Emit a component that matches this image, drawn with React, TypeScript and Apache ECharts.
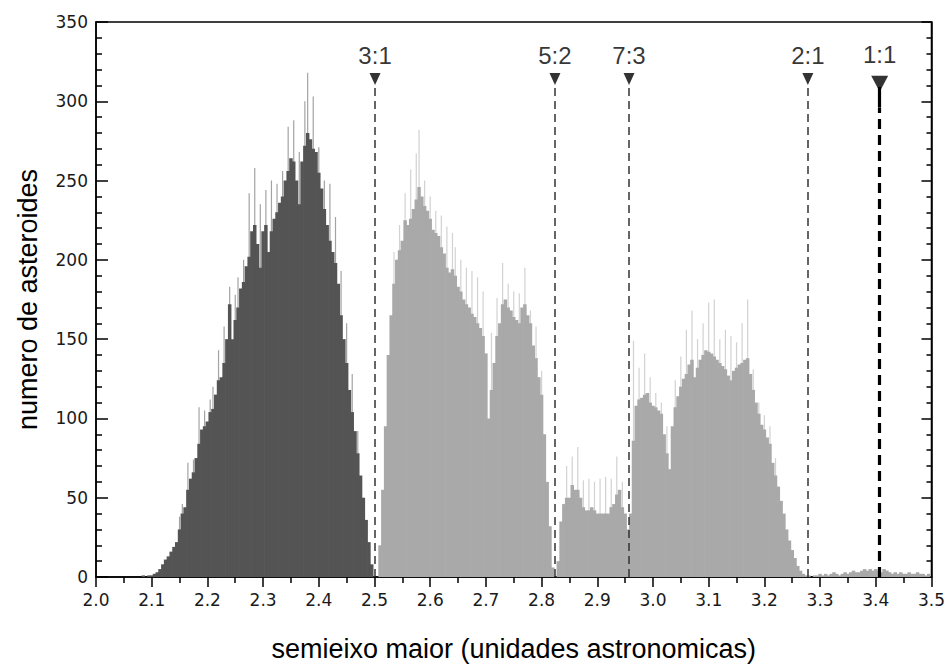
import React, { useEffect, useRef } from "react";
import * as echarts from "echarts";

// Histogram bins: centre of first bin and bin width (AU)
const BIN_START = 2.08;
const BIN_STEP = 0.005;

// Body counts per bin (2.080 .. 3.495, step 0.005)
const counts = [
  0, 1, 0, 1,
  1, 2, 3, 5, 8, 11, 13, 16, 19, 22,
  30, 40, 44, 55, 62, 66, 75, 84, 93, 95,
  98, 104, 106, 115, 124, 126, 135, 150, 172, 150,
  162, 170, 182, 186, 196, 202, 218, 222, 210, 195,
  218, 222, 205, 218, 226, 230, 236, 240, 250, 256,
  264, 262, 250, 235, 262, 272, 280, 276, 270, 268,
  255, 245, 232, 222, 212, 205, 198, 185, 165, 150,
  135, 118, 104, 92, 78, 64, 50, 36, 22, 8,
  0, 0, 20, 55, 95, 140, 165, 185, 200, 206,
  212, 225, 222, 226, 232, 238, 246, 240, 234, 231,
  226, 219, 217, 215, 208, 204, 195, 192, 194, 190,
  183, 180, 175, 172, 170, 166, 164, 160, 157, 152,
  141, 100, 118, 135, 152, 160, 172, 175, 170, 168,
  164, 162, 160, 170, 172, 165, 160, 146, 138, 126,
  115, 90, 60, 32, 6, 0, 10, 35, 46, 50,
  50, 58, 55, 55, 50, 44, 42, 42, 44, 42,
  40, 40, 40, 40, 40, 44, 46, 52, 55, 44,
  40, 30, 40, 86, 108, 112, 113, 115, 116, 110,
  108, 107, 105, 103, 90, 78, 68, 95, 107, 114,
  120, 125, 128, 134, 137, 126, 132, 137, 140, 143,
  142, 141, 139, 137, 135, 133, 131, 127, 124, 130,
  132, 134, 135, 137, 138, 128, 118, 110, 103, 96,
  93, 88, 84, 72, 64, 57, 48, 40, 30, 23,
  17, 12, 7, 4, 2, 1, 1, 0, 1, 1,
  2, 1, 2, 1, 2, 3, 2, 1, 2, 3,
  2, 3, 4, 3, 3, 4, 5, 4, 5, 4,
  5, 4, 3, 5, 4, 3, 2, 3, 2, 3,
  2, 2, 3, 2, 2, 3, 2, 2, 1, 2,
];

// Narrow spikes above the body (position in AU, count)
const tipPositions = [
  2.15, 2.155, 2.165, 2.175, 2.185, 2.195, 2.205, 2.21, 2.22, 2.23,
  2.24, 2.25, 2.255, 2.265, 2.275, 2.285, 2.295, 2.305, 2.315, 2.325,
  2.335, 2.345, 2.355, 2.365, 2.375, 2.38, 2.39, 2.4, 2.41, 2.42,
  2.43, 2.44, 2.45, 2.46, 2.47,
  2.535, 2.545, 2.555, 2.565, 2.575, 2.58, 2.59, 2.6, 2.61, 2.62,
  2.63, 2.64, 2.645, 2.655, 2.665, 2.675, 2.685, 2.695, 2.71, 2.72,
  2.73, 2.74, 2.75, 2.76, 2.77, 2.78, 2.79, 2.8,
  2.845, 2.855, 2.865, 2.875, 2.885, 2.895, 2.905, 2.915, 2.925, 2.935, 2.945,
  2.965, 2.975, 2.985, 2.995, 3.005, 3.015, 3.025, 3.04, 3.05, 3.06,
  3.07, 3.08, 3.09, 3.1, 3.11, 3.12, 3.13, 3.14, 3.15, 3.16,
  3.17, 3.18, 3.19, 3.2, 3.21, 3.22,
];
const tipCounts = [
  38, 46, 72, 74, 107, 105, 112, 120, 143, 158,
  183, 178, 189, 200, 242, 258, 235, 244, 250, 248,
  256, 284, 288, 268, 300, 318, 303, 271, 250, 248,
  227, 193, 160, 128, 92,
  205, 222, 242, 257, 267, 282, 250, 240, 231, 228,
  221, 217, 208, 200, 195, 193, 189, 180, 154, 176,
  198, 185, 180, 179, 195, 168, 158, 130,
  70, 76, 82, 61, 62, 60, 62, 63, 62, 76, 60,
  149, 132, 141, 126, 116, 110, 95, 124, 139, 156,
  168, 150, 160, 173, 175, 150, 156, 152, 148, 160,
  175, 131, 110, 102, 95, 75,
];

// Mean-motion resonances with Jupiter
const resonanceLabels = ["3:1", "5:2", "7:3", "2:1", "1:1"];
const resonancePositions = [2.501, 2.824, 2.957, 3.278, 3.407];

const GAP_EDGE = 2.5;

export default function App() {
  const ref = useRef<HTMLDivElement>(null);

  useEffect(() => {
    if (!ref.current) return;
    const chart = echarts.init(ref.current, undefined, { renderer: "svg" });
    const r3 = (v: number) => Math.round(v * 1000) / 1000;

    const bodyData = counts.map((c, i) => {
      const a = r3(BIN_START + i * BIN_STEP);
      return { value: [a, c], itemStyle: { color: a < GAP_EDGE ? "#545454" : "#a9a9a9" } };
    });
    const tipData = tipPositions.map((a, i) => ({
      value: [a, tipCounts[i]],
      itemStyle: { color: a < GAP_EDGE ? "#a3a3a3" : "#d2d2d2" },
    }));

    const isMain = (i: number) => resonanceLabels[i] === "1:1";
    const markerData = resonancePositions.map((x, i) => ({
      value: [x, isMain(i) ? 311 : 314],
      symbolSize: isMain(i) ? [17, 16] : [11, 12],
      label: {
        show: true,
        position: "top",
        distance: isMain(i) ? 9 : 6,
        formatter: resonanceLabels[i],
        fontFamily: "Liberation Sans",
        fontSize: 24,
        color: "#000",
      },
    }));
    const lineData = resonancePositions.flatMap((x, i) =>
      isMain(i)
        ? [
            [
              { coord: [x, 0], lineStyle: { color: "#000", width: 3.2, type: [10, 6] } },
              { coord: [x, 296] },
            ],
            [
              { coord: [x, 296], lineStyle: { color: "#000", width: 3.2, type: "solid" } },
              { coord: [x, 309] },
            ],
          ]
        : [
            [
              { coord: [x, 0], lineStyle: { color: "#333", width: 1.5, type: [8, 5] } },
              { coord: [x, 310] },
            ],
          ]
    );

    const tickStyle = { color: "#000", width: 1.5 };
    const labelFont = { fontFamily: "DejaVu Sans", fontSize: 17, color: "#1a1a1a" };
    const titleFont = { fontFamily: "Liberation Sans", fontSize: 27, color: "#000" };

    chart.setOption({
      animation: false,
      grid: {
        left: 96,
        top: 22,
        width: 837,
        height: 555,
        show: true,
        borderColor: "#000",
        borderWidth: 1.5,
        backgroundColor: "transparent",
      },
      xAxis: [
        {
          type: "value",
          min: 2.0,
          max: 3.5,
          interval: 0.1,
          axisLine: { show: true, onZero: false, lineStyle: tickStyle },
          axisTick: { show: true, inside: false, length: 10, lineStyle: tickStyle },
          minorTick: { show: true, splitNumber: 2, length: 6, lineStyle: tickStyle },
          splitLine: { show: false },
          axisLabel: { ...labelFont, margin: 14, formatter: (v: number) => v.toFixed(1) },
          name: "semieixo maior (unidades astronomicas)",
          nameLocation: "middle",
          nameGap: 58,
          nameTextStyle: titleFont,
        },
        { type: "value", min: 2.0, max: 3.5, show: false },
        { type: "value", min: 2.0, max: 3.5, show: false },
      ],
      yAxis: [
        {
          type: "value",
          min: 0,
          max: 350,
          interval: 50,
          axisLine: { show: true, lineStyle: tickStyle },
          axisTick: { show: true, inside: true, length: 12, lineStyle: tickStyle },
          minorTick: { show: true, splitNumber: 5, length: 6, lineStyle: tickStyle },
          splitLine: { show: false },
          axisLabel: { ...labelFont, margin: 8 },
          name: "numero de asteroides",
          nameLocation: "middle",
          nameGap: 55,
          nameTextStyle: titleFont,
        },
        {
          type: "value",
          min: 0,
          max: 350,
          interval: 50,
          position: "right",
          axisLine: { show: true, lineStyle: tickStyle },
          axisTick: { show: true, inside: true, length: 10, lineStyle: tickStyle },
          minorTick: { show: true, splitNumber: 5, length: 5, lineStyle: tickStyle },
          splitLine: { show: false },
          axisLabel: { show: false },
        },
      ],
      series: [
        {
          type: "bar",
          xAxisIndex: 1,
          yAxisIndex: 0,
          data: tipData,
          barWidth: 1.2,
          silent: true,
        },
        {
          type: "bar",
          xAxisIndex: 2,
          yAxisIndex: 0,
          data: bodyData,
          barWidth: 3.5,
          silent: true,
        },
        {
          type: "scatter",
          xAxisIndex: 0,
          yAxisIndex: 0,
          symbol: "triangle",
          symbolRotate: 180,
          itemStyle: { color: "#000" },
          data: markerData,
          silent: true,
          z: 5,
          markLine: {
            silent: true,
            symbol: ["none", "none"],
            label: { show: false },
            data: lineData,
          },
        },
      ],
    });
    return () => chart.dispose();
  }, []);

  return (
    <div
      ref={ref}
      style={{ position: "absolute", left: 0, top: 0, width: 948, height: 668, background: "#fff" }}
    />
  );
}
